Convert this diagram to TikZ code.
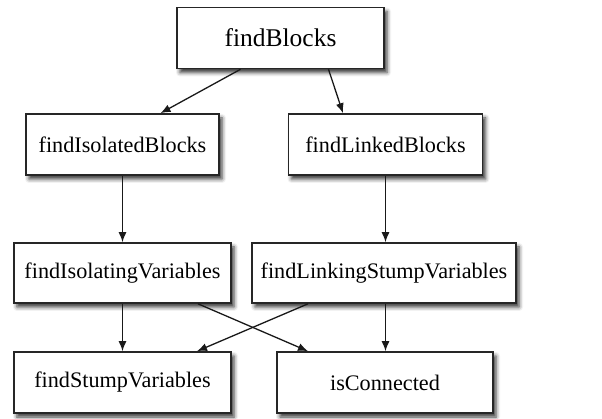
\documentclass[tikz,border=0pt]{standalone}
\usepackage{fontspec}
\setmainfont{Liberation Serif}
\usetikzlibrary{arrows.meta,shadows.blur}

\begin{document}
\begin{tikzpicture}[x=1pt,y=1pt,
    fn/.style={draw=black!85,line width=1.6pt,fill=white,inner sep=0pt,
      minimum height=61pt,font=\fontsize{22.2}{26}\selectfont,
      blur shadow={shadow xshift=3pt,shadow yshift=-4pt,shadow blur radius=4pt,shadow opacity=80}},
    call/.style={line width=1.3pt,draw=black!90,-{Latex[length=10pt,width=8pt]}}]
  \useasboundingbox (0,0) rectangle (602,418);
  % top level
  \node[fn,minimum width=207pt,font=\fontsize{25.5}{30}\selectfont] (blocks) at (280.5,380) {findBlocks};
  % second row
  \node[fn,minimum width=193pt] (isoBlocks) at (122.5,273.5) {findIsolatedBlocks};
  \node[fn,minimum width=194pt] (linkBlocks) at (385.5,273.5) {findLinkedBlocks};
  % third row
  \node[fn,minimum width=217pt,minimum height=60pt] (isoVars) at (122.5,145) {findIsolatingVariables};
  \node[fn,minimum width=264pt,minimum height=60pt] (linkVars) at (384,145) {findLinkingStumpVariables};
  % bottom row
  \node[fn,minimum width=217pt] (stumpVars) at (122.5,35.5) {findStumpVariables};
  \node[fn,minimum width=216pt] (connected) at (385,35.5) {isConnected};

  \draw[call] ([xshift=-40pt]blocks.south) -- ([xshift=38pt]isoBlocks.north);
  \draw[call] ([xshift=48pt]blocks.south) -- ([xshift=-42.5pt]linkBlocks.north);
  \draw[call] (isoBlocks.south) -- (isoVars.north);
  \draw[call] (linkBlocks.south) -- (linkBlocks.south |- linkVars.north);
  \draw[call] (isoVars.south) -- (stumpVars.north);
  \draw[call] ([xshift=1.5pt]linkVars.south) -- ([xshift=1.5pt]linkVars.south |- connected.north);
  \draw[call] ([xshift=75.5pt]isoVars.south) -- ([xshift=-77pt]connected.north);
  \draw[call] ([xshift=-76pt]linkVars.south) -- ([xshift=74.5pt]stumpVars.north);
\end{tikzpicture}
\end{document}
